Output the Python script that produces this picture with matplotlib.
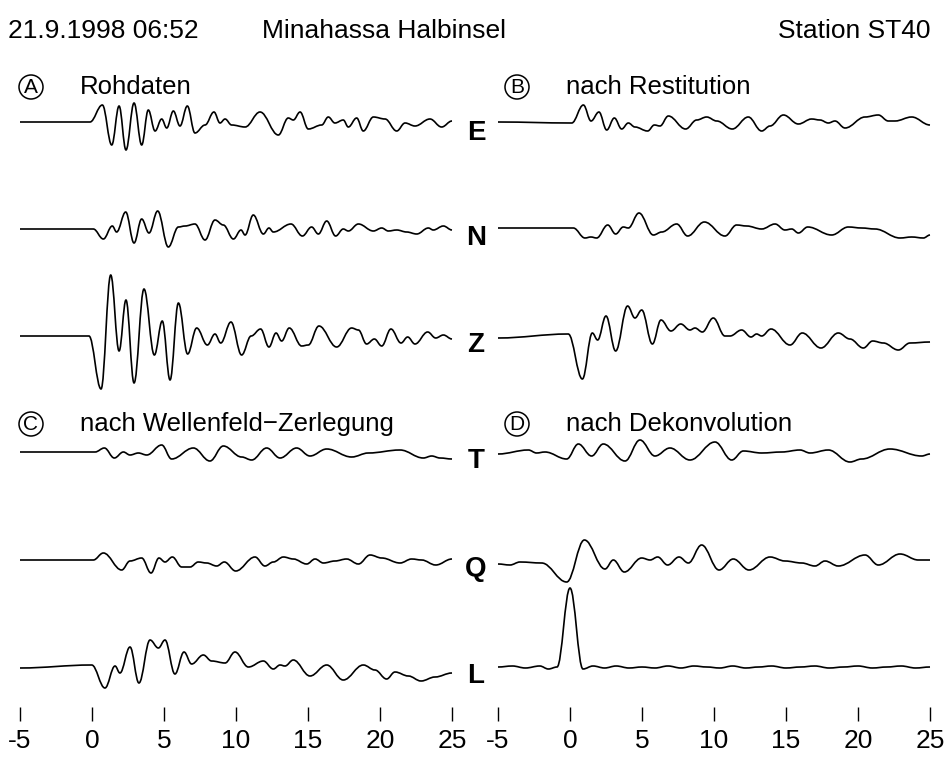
import matplotlib
matplotlib.use("Agg")
import matplotlib.pyplot as plt
from matplotlib.path import Path
from matplotlib.patches import PathPatch, Circle
from matplotlib.transforms import Affine2D

plt.rcParams['font.family'] = ['Liberation Sans', 'DejaVu Sans']
plt.rcParams['axes.unicode_minus'] = False

# --- seismogram picks: time (s) and amplitude of each turning point ---
# panel A: raw data
rohE_t = [-5.0, -0.14, 0.72, 1.37, 1.88, 2.36, 2.92, 3.45, 3.91, 4.38, 4.84, 5.19, 5.65, 6.11, 6.62, 7.15,
          7.85, 8.47, 8.89, 9.24, 9.70, 10.63, 11.67, 12.94, 13.63, 13.98, 14.45, 15.02, 15.95, 16.41, 16.87,
          17.45, 17.80, 18.38, 18.84, 19.54, 20.35, 21.16, 21.74, 22.43, 23.47, 24.28, 25.0]
rohE_a = [0, 0, 17, -23, 16, -28, 19, -23, 12, -9, 3, -6, 11, -4, 16, -11, -3, 10, -1, 3, -3, -5, 10, -13,
          4, 2, 10, -7, -3, 5, -1, 2, -5, 4, -9, 5, 3, -9, -1, -4, 3, -5, 1]
rohN_t = [-5.0, 0.09, 0.79, 1.41, 1.71, 2.34, 2.92, 3.45, 3.96, 4.56, 5.30, 6.00, 6.46, 7.15, 7.85, 8.54,
          9.12, 9.82, 10.35, 10.63, 11.20, 11.90, 12.29, 12.59, 13.82, 14.61, 15.25, 15.72, 16.30, 16.92,
          17.45, 17.80, 18.50, 19.54, 20.12, 20.58, 21.16, 21.85, 22.55, 23.36, 23.70, 24.40, 25.0]
rohN_a = [0, 0, -10, 3, -3, 17, -14, 10, -4, 18, -18, 2, 3, 5, -11, 9, 4, -10, -1, -6, 14, -5, 1, -3, 5,
          -7, 2, -5, 8, -7, 0, -2, 5, -2, 1, -2, -1, -3, -5, 1, -1, 3, -1]
rohZ_t = [-5.0, -0.21, 0.63, 1.30, 1.88, 2.36, 2.92, 3.61, 4.33, 4.88, 5.42, 6.00, 6.64, 7.27, 8.01, 8.54,
          8.94, 9.65, 10.39, 11.05, 11.71, 12.29, 12.78, 13.17, 13.70, 14.56, 15.02, 15.76, 16.99, 18.03,
          18.50, 19.07, 19.61, 20.12, 20.76, 21.46, 21.92, 22.43, 23.31, 23.87, 24.40, 25.0]
rohZ_a = [0, 0, -53, 61, -15, 36, -47, 47, -19, 15, -44, 33, -18, 8, -9, 2, -7, 14, -19, 0, 7, -11, 3,
          -5, 8, -10, -9, 10, -11, 8, 6, -8, -3, -10, 7, -7, -1, -8, 4, -2, 1, -3]

# panel B: after restitution
resE_t = [-5.0, 0.12, 0.93, 1.46, 2.01, 2.55, 3.08, 3.59, 4.05, 4.51, 5.39, 5.86, 6.25, 6.83, 8.03, 8.80,
          9.49, 10.19, 11.27, 12.38, 13.31, 13.89, 14.82, 15.86, 16.78, 17.36, 17.94, 18.40, 19.10, 20.49,
          21.41, 22.11, 22.57, 23.73, 25.0]
resE_a = [0, -1, 17, 1, 10, -8, 4, -7, -1, -5, -9, -3, -4, 6, -7, 2, 5, 1, -7, 5, -9, -4, 7, -2, 3, 2,
          -1, 1, -6, 5, 7, 1, 1, 5, -3]
resN_t = [-5.0, 0.23, 1.04, 1.45, 1.85, 2.62, 3.17, 3.70, 4.05, 4.79, 5.79, 6.37, 7.41, 8.17, 9.33, 10.76,
          11.57, 12.27, 13.31, 14.24, 14.93, 15.40, 15.86, 16.51, 18.17, 19.33, 20.25, 21.18, 22.92, 23.73,
          24.54, 25.0]
resN_a = [0, 0, -10, -9, -10, 3, -6, 1, 0, 15, -7, -4, 4, -8, 6, -8, 3, 2, -1, 4, -2, -1, -5, 1, -7, 1,
          0, -1, -10, -9, -10, -7]
resZ_t = [-5.0, -0.12, 0.86, 1.55, 1.92, 2.50, 3.17, 4.00, 4.51, 4.98, 5.72, 6.32, 7.01, 7.69, 8.33, 8.68,
          9.19, 9.95, 10.76, 11.11, 11.92, 12.57, 12.96, 13.31, 13.96, 15.28, 16.13, 17.43, 18.63, 19.44,
          20.37, 21.02, 21.76, 22.80, 23.61, 25.0]
resZ_a = [0, 4, -41, 5, -2, 22, -13, 32, 20, 28, -6, 18, 7, 14, 8, 10, 6, 20, 2, 2, 8, 1, 4, 2, 9, -7, 5,
          -10, 5, -1, -10, -3, -5, -12, -5, -4]

# panel C: after wavefield separation
welT_t = [-5.0, 0.21, 0.86, 1.55, 2.18, 2.64, 3.22, 3.80, 4.84, 5.53, 7.04, 8.19, 9.12, 10.39, 11.09, 12.13,
          13.06, 14.21, 15.14, 16.30, 18.03, 19.19, 21.39, 23.01, 23.59, 24.17, 25.0]
welT_a = [0, 0, 4, -6, 0, -3, -1, -3, 7, -7, 4, -9, 6, -5, -8, 4, -6, 4, -4, 3, -5, -1, 2, -6, -4, -6, -7]
welQ_t = [-5.0, 0.09, 0.79, 2.06, 2.64, 3.45, 4.10, 4.65, 5.07, 5.58, 6.23, 6.81, 7.38, 7.96, 8.66, 9.19,
          9.98, 11.32, 12.01, 12.59, 13.29, 13.98, 14.91, 15.49, 16.07, 16.87, 17.68, 18.50, 19.31, 20.12,
          21.39, 22.20, 22.89, 23.87, 25.0]
welQ_a = [0, 0, 7, -10, -1, 2, -13, 2, -2, 3, -7, -7, -2, -3, -6, -2, -11, 3, -6, -2, 3, 1, -4, 1, -3, -1,
          1, -4, 5, 2, -3, 1, 0, -5, 1]
welL_t = [-5.0, -0.02, 0.90, 1.60, 1.94, 2.64, 3.26, 4.03, 4.61, 5.07, 5.76, 6.39, 6.92, 7.73, 8.31, 9.24,
          9.93, 10.86, 11.90, 12.59, 13.06, 13.40, 13.98, 15.14, 16.30, 17.45, 18.84, 19.65, 20.46, 21.04,
          21.97, 22.85, 23.82, 25.0]
welL_a = [0, 3, -20, 2, -5, 21, -15, 28, 20, 28, -6, 16, 4, 13, 7, 5, 16, 1, 7, -1, 3, 2, 8, -8, 3, -12,
          3, -2, -11, -4, -8, -13, -9, -5]

# panel D: after deconvolution
dekT_t = [-5.0, -2.89, -2.32, -1.74, -0.23, 0.58, 1.50, 2.31, 3.82, 4.86, 5.90, 6.94, 8.33, 10.07, 11.23,
          12.04, 13.31, 14.70, 15.97, 16.67, 17.94, 19.44, 20.25, 22.22, 24.42, 25.0]
dekT_a = [-1, 3, 0, 1, -6, 9, -3, 9, -8, 13, -3, 5, -7, 11, -7, 2, 0, 1, 3, 0, 3, -9, -6, 4, -3, -1]
dekQ_t = [-5.0, -4.17, -3.47, -1.97, -0.23, 1.00, 2.43, 3.01, 3.77, 4.98, 5.56, 6.09, 6.78, 7.57, 8.22, 9.14,
          10.35, 11.34, 12.43, 13.89, 14.93, 16.09, 17.01, 17.71, 18.63, 20.49, 21.41, 22.92, 24.19, 25.0]
dekQ_a = [-1, -2, 1, 0, -19, 23, -6, 3, -9, 5, 3, 6, -2, 6, 0, 18, -7, 4, -7, 6, 2, 0, -3, 2, -3, 8, -2,
          9, 3, 3]
dekL_t = [-5.0, -4.0, -3.1, -2.1, -1.5, -0.9, 0.0, 0.9, 1.6, 2.4, 3.2, 4.1, 5.0, 5.9, 6.8, 7.7, 8.6, 9.5,
          10.4, 11.3, 12.2, 13.1, 14.0, 15.0, 16.0, 17.0, 18.0, 19.0, 20.0, 21.0, 22.0, 23.0, 24.0, 25.0]
dekL_a = [0, 1, -1, 1, -2, 0, 79, -2, 1, -1, 1, -1, 0, -1, 1, -1, 1, 0, -1, 1, -1, 0, 1, -1, 0, 1, -1, 0,
          1, -1, 0, 1, -1, 0]

components = ['E', 'N', 'Z', 'T', 'Q', 'L']
xticks = [-5, 0, 5, 10, 15, 20, 25]

W, H = 945, 758
fig = plt.figure(figsize=(W / 100, H / 100), dpi=100)
px = Affine2D().scale(1 / W, -1 / H).translate(0, 1) + fig.transFigure


def trace(ax, t, a, base, k=0.38):
    assert len(t) == len(a)
    verts = [(t[0], base - a[0])]
    codes = [Path.MOVETO]
    for i in range(1, len(t)):
        dt = t[i] - t[i - 1]
        verts += [(t[i - 1] + k * dt, base - a[i - 1]), (t[i] - k * dt, base - a[i]), (t[i], base - a[i])]
        codes += [Path.CURVE4] * 3
    ax.add_patch(PathPatch(Path(verts, codes), fill=False, lw=1.2, ec='black',
                           joinstyle='round', clip_on=False))


def panel(x0, traces, bases):
    ax = fig.add_axes([x0 / W, 1 - 707 / H, 432 / W, (707 - 55) / H])
    ax.set_xlim(-5, 25)
    ax.set_ylim(707, 55)
    for (t, a), b in zip(traces, bases):
        trace(ax, t, a, b)
    for s in ax.spines.values():
        s.set_visible(False)
    ax.set_yticks([])
    ax.set_xticks(xticks)
    ax.tick_params(axis='x', direction='out', length=10, width=1, pad=6, labelsize=19)
    ax.patch.set_alpha(0)
    return ax


panel(20, [(rohE_t, rohE_a), (rohN_t, rohN_a), (rohZ_t, rohZ_a),
           (welT_t, welT_a), (welQ_t, welQ_a), (welL_t, welL_a)],
      [122, 229, 336, 452, 560, 668])
panel(498, [(resE_t, resE_a), (resN_t, resN_a), (resZ_t, resZ_a),
            (dekT_t, dekT_a), (dekQ_t, dekQ_a), (dekL_t, dekL_a)],
      [122, 228, 338, 453, 563, 667])

# header
fig.text(8, 31, '21.9.1998 06:52', transform=px, fontsize=19, va='center', ha='left')
fig.text(262, 31, 'Minahassa Halbinsel', transform=px, fontsize=19, va='center', ha='left')
fig.text(930, 31, 'Station ST40', transform=px, fontsize=19, va='center', ha='right')

# panel captions with circled letters
captions = [('A', 31, 87, 'Rohdaten'), ('B', 517, 87, 'nach Restitution'),
            ('C', 31, 424, 'nach Wellenfeld\u2212Zerlegung'), ('D', 517, 424, 'nach Dekonvolution')]
for letter, cx, cy, label in captions:
    fig.add_artist(Circle((cx, cy), 12, transform=px, fill=False, lw=1.1, ec='black'))
    fig.text(cx, cy + 0.5, letter, transform=px, fontsize=15, ha='center', va='center')
    fig.text(cx + 49, cy, label, transform=px, fontsize=18.5, ha='left', va='center')

# component names between the panels
for comp, y in zip(components, [133, 238, 345, 461, 569, 676]):
    fig.text(476, y, comp, transform=px, fontsize=20, fontweight='bold', ha='center', va='center')

fig.savefig('out.png', dpi=100)
